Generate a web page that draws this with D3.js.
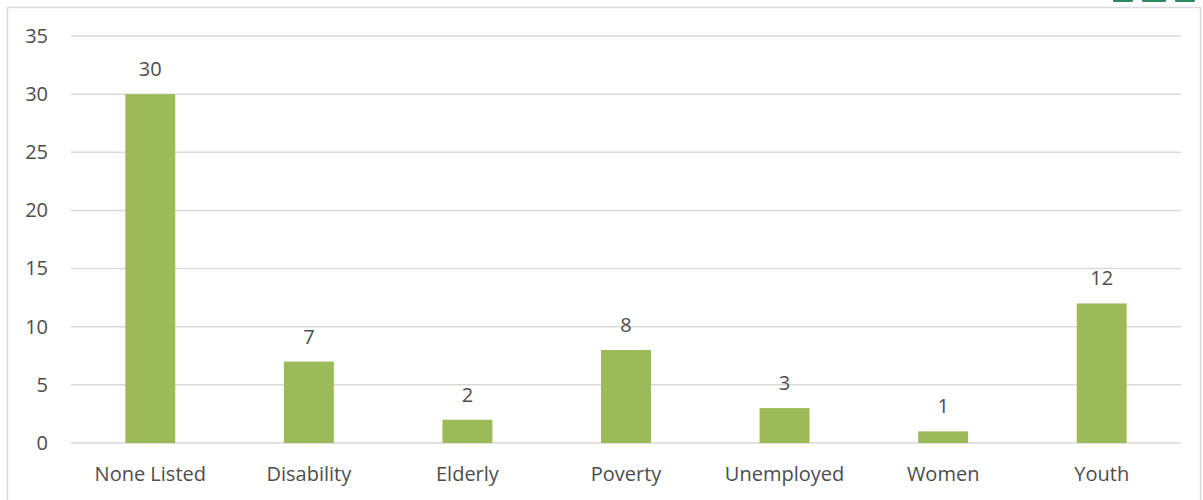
<!DOCTYPE html>
<html>
<head>
<meta charset="utf-8">
<script src="https://cdnjs.cloudflare.com/ajax/libs/d3/7.8.5/d3.min.js"></script>
<style>
  body { margin: 0; background: #fff; }
  svg text { font-family: "Open Sans", "Noto Sans", sans-serif; fill: #4d4d4d; }
</style>
</head>
<body>
<div class="container"></div>
<script>
const categories = ["None Listed", "Disability", "Elderly", "Poverty", "Unemployed", "Women", "Youth"];
const counts = [30, 7, 2, 8, 3, 1, 12];
const yTicks = [0, 5, 10, 15, 20, 25, 30, 35];

const W = 1203, H = 500;
const margin = { top: 36, right: 22, bottom: 57, left: 71 };
let w = W - margin.left - margin.right,
    h = H - margin.top - margin.bottom;

const svg = d3.select(".container").append("svg").attr("width", W).attr("height", H);

//Outer frame
svg.append("rect").attr("x", 7.5).attr("y", 7.5).attr("width", 1193).attr("height", 497)
  .attr("fill", "none").attr("stroke", "#d9d9d9").attr("stroke-width", 1.5);

//Bits of the logo cut off at the top right
[[1113, 20], [1142, 24], [1175, 20]].forEach(([x, lw]) => {
  svg.append("rect").attr("x", x).attr("y", -1).attr("width", lw).attr("height", 3).attr("rx", 1.5).attr("fill", "#2e8a5c");
});

const g = svg.append("g").attr("transform", "translate(" + margin.left + "," + margin.top + ")");

const xScale = d3.scaleBand().domain(categories).range([0, w]).paddingInner(0.685).paddingOuter(0.3425);
const yScale = d3.scaleLinear().domain([0, 35]).range([h, 0]);

//Gridlines
g.selectAll(".grid").data(yTicks).enter().append("line")
  .attr("x1", 0).attr("x2", w)
  .attr("y1", d => yScale(d)).attr("y2", d => yScale(d))
  .attr("stroke", "#d9d9d9").attr("stroke-width", 1.5);

//Y axis labels
const yAxis = d3.axisLeft(yScale).tickValues(yTicks).tickSize(0).tickPadding(23);
g.append("g").call(yAxis).call(a => a.select(".domain").remove())
  .selectAll("text").style("font-size", "20px").attr("fill", "#4d4d4d");

//X axis labels
const xAxis = d3.axisBottom(xScale).tickSize(0).tickPadding(24);
g.append("g").attr("transform", "translate(0," + h + ")").call(xAxis)
  .call(a => a.select(".domain").remove())
  .selectAll("text").style("font-size", "20px").attr("fill", "#4d4d4d");

//Value labels
g.selectAll(".val").data(counts).enter().append("text")
  .attr("x", (d, i) => xScale(categories[i]) + xScale.bandwidth() / 2)
  .attr("y", d => yScale(d) - 18)
  .attr("text-anchor", "middle")
  .style("font-size", "20px")
  .text(d => d);

//Bars
g.selectAll(".bar").data(counts).enter().append("rect")
  .attr("x", (d, i) => xScale(categories[i]))
  .attr("y", d => yScale(d))
  .attr("width", xScale.bandwidth())
  .attr("height", d => h - yScale(d))
  .attr("fill", "#9bbb59");
</script>
</body>
</html>
